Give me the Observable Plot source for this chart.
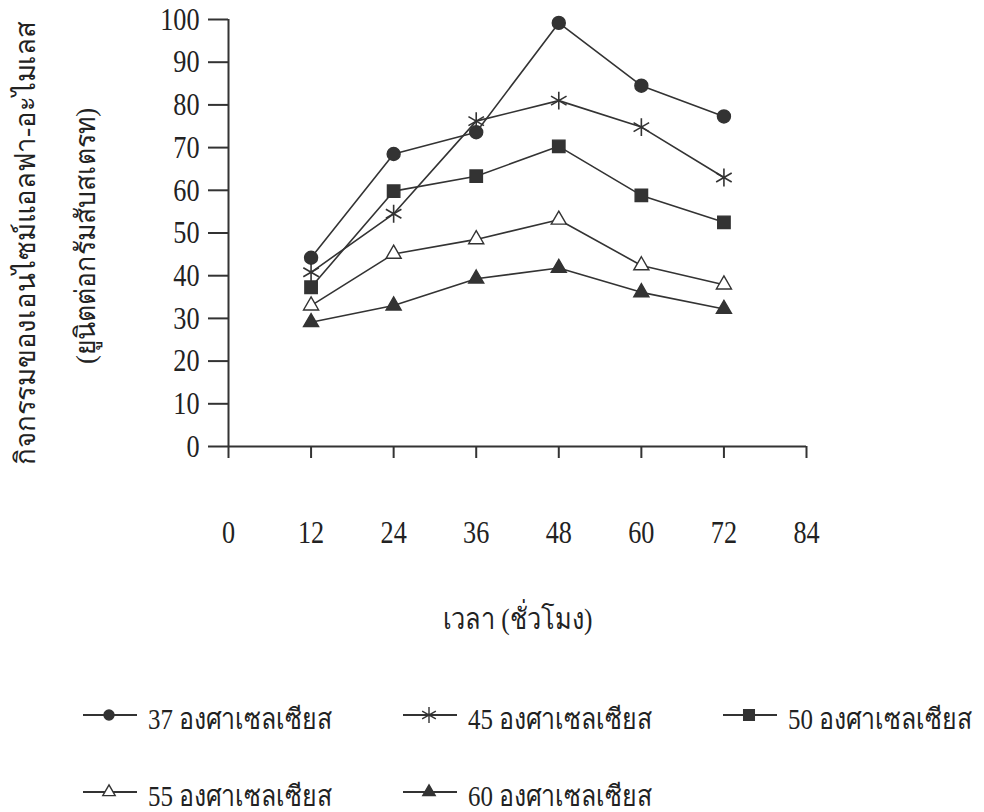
<!DOCTYPE html>
<html>
<head>
<meta charset="utf-8">
<script src="https://cdn.jsdelivr.net/npm/d3@7"></script>
<script src="https://cdn.jsdelivr.net/npm/@observablehq/plot@0.6"></script>
<style>
  body { margin: 0; background: #fff; }
  #chart svg, #legend svg { display: block; }
</style>
</head>
<body>
<div id="chart"></div>
<div id="legend"></div>
<script>
// Sampling times (hours) and alpha-amylase activity (units per gram substrate)
const hours = [12, 24, 36, 48, 60, 72];
const act37 = [44.2, 68.5, 73.6, 99.2, 84.5, 77.3];
const act45 = [40.8, 54.5, 76.2, 81.0, 74.8, 63.0];
const act50 = [37.3, 59.8, 63.3, 70.3, 58.8, 52.5];
const act55 = [33.0, 45.1, 48.5, 53.1, 42.4, 37.9];
const act60 = [29.1, 33.0, 39.3, 41.8, 36.1, 32.2];

const seriesLabels = ["37 องศาเซลเซียส", "45 องศาเซลเซียส", "50 องศาเซลเซียส", "55 องศาเซลเซียส", "60 องศาเซลเซียส"];
const xTicks = [0, 12, 24, 36, 48, 60, 72, 84];
const yTicks = [0, 10, 20, 30, 40, 50, 60, 70, 80, 90, 100];
const yTitle = ["กิจกรรมของเอนไซม์แอลฟา-อะไมเลส", "(ยูนิตต่อกรัมสับสเตรท)"];
const xTitle = "เวลา (ชั่วโมง)";

const ink = "#333";
const textInk = "#222";
const serif = "'Liberation Serif', 'Times New Roman', serif";

const series = [
  {label: seriesLabels[0], values: act37, symbol: "circle",   fill: ink,    r: 6.5, lr: 5},
  {label: seriesLabels[1], values: act45, symbol: "asterisk", fill: "none", r: 8.5, lr: 7.5},
  {label: seriesLabels[2], values: act50, symbol: "square",   fill: ink,    r: 7.0, lr: 6},
  {label: seriesLabels[3], values: act55, symbol: "triangle", fill: "#fff", r: 5.6, lr: 4.6},
  {label: seriesLabels[4], values: act60, symbol: "triangle", fill: ink,    r: 5.6, lr: 4.6}
];

const rows = series.map(s => hours.map((h, i) => ({hour: h, value: s.values[i]})));

const marks = [
  Plot.ruleX([0], {y1: 0, y2: 100, stroke: ink, strokeWidth: 2}),
  Plot.ruleY([0], {x1: 0, x2: 84, stroke: ink, strokeWidth: 2}),
  Plot.axisY({ticks: yTicks, tickSize: 20, tickPadding: 9, label: null, fontSize: 32, stroke: ink, strokeWidth: 2, fill: textInk}),
  Plot.axisX({ticks: xTicks, tickSize: 12, tickPadding: 62, label: null, fontSize: 32, stroke: ink, strokeWidth: 2, fill: textInk}),
  Plot.text([yTitle[0]], {frameAnchor: "left", rotate: -90, textAnchor: "middle", dx: -202, dy: 10, fontSize: 28, fill: textInk}),
  Plot.text([yTitle[1]], {frameAnchor: "left", rotate: -90, textAnchor: "middle", dx: -142, dy: 3, fontSize: 28, fill: textInk}),
  Plot.text([xTitle], {frameAnchor: "bottom", dy: 182, fontSize: 29, fill: textInk})
];

series.forEach((s, k) => {
  marks.push(Plot.line(rows[k], {x: "hour", y: "value", stroke: ink, strokeWidth: 1.6}));
  marks.push(Plot.dot(rows[k], {
    x: "hour", y: "value", symbol: s.symbol, r: s.r,
    fill: s.fill, stroke: ink, strokeWidth: s.symbol === "asterisk" ? 1.6 : 1.4
  }));
});

const chart = Plot.plot({
  width: 984,
  height: 660,
  marginLeft: 228,
  marginRight: 178,
  marginTop: 19,
  marginBottom: 214,
  style: {fontFamily: serif, background: "#fff", overflow: "visible"},
  x: {domain: [0, 84]},
  y: {domain: [0, 100]},
  marks
});

// Narrow the numeric tick labels horizontally around their anchor point
function condense(svg, selector, s) {
  svg.querySelectorAll(selector).forEach(t => {
    const m = t.transform.baseVal.consolidate();
    const ax = (m ? m.matrix.e : 0) + (t.x.baseVal.numberOfItems ? t.x.baseVal.getItem(0).value : 0);
    const g = document.createElementNS("http://www.w3.org/2000/svg", "g");
    g.setAttribute("transform", `translate(${ax},0) scale(${s},1) translate(${-ax},0)`);
    t.parentNode.insertBefore(g, t);
    g.appendChild(t);
  });
}
condense(chart, 'g[aria-label$="tick label"] text', 0.82);

// Fit the Thai titles to their set lengths along the baseline
const titleLengths = new Map([[yTitle[0], 443], [yTitle[1], 256], [xTitle, 150]]);
chart.querySelectorAll('g[aria-label="text"] text').forEach(t => {
  const len = titleLengths.get(t.textContent);
  if (len) {
    t.setAttribute("textLength", len);
    t.setAttribute("lengthAdjust", "spacingAndGlyphs");
  }
});
document.getElementById("chart").appendChild(chart);

// Legend: two rows of line-and-symbol samples with labels
const legendPos = [[83, 55], [403, 55], [723, 55], [83, 132], [403, 132]];
const lsvg = d3.select("#legend").append("svg").attr("width", 984).attr("height", 152)
  .style("font-family", serif);
const symbolTypes = {circle: d3.symbolCircle, asterisk: d3.symbolAsterisk, square: d3.symbolSquare, triangle: d3.symbolTriangle};
series.forEach((s, k) => {
  const [x0, y0] = legendPos[k];
  const g = lsvg.append("g").attr("transform", `translate(${x0},${y0})`);
  g.append("line").attr("x1", 0).attr("x2", 54).attr("y1", 0).attr("y2", 0)
    .attr("stroke", ink).attr("stroke-width", 2);
  g.append("path").attr("transform", "translate(26,0)")
    .attr("d", d3.symbol(symbolTypes[s.symbol], s.lr * s.lr * Math.PI)())
    .attr("fill", s.fill).attr("stroke", ink).attr("stroke-width", 1.4);
  g.append("text").attr("x", 65).attr("y", 4).attr("dy", "0.35em")
    .attr("font-size", 29).attr("fill", textInk)
    .attr("textLength", 184).attr("lengthAdjust", "spacingAndGlyphs")
    .text(s.label);
});
</script>
</body>
</html>
